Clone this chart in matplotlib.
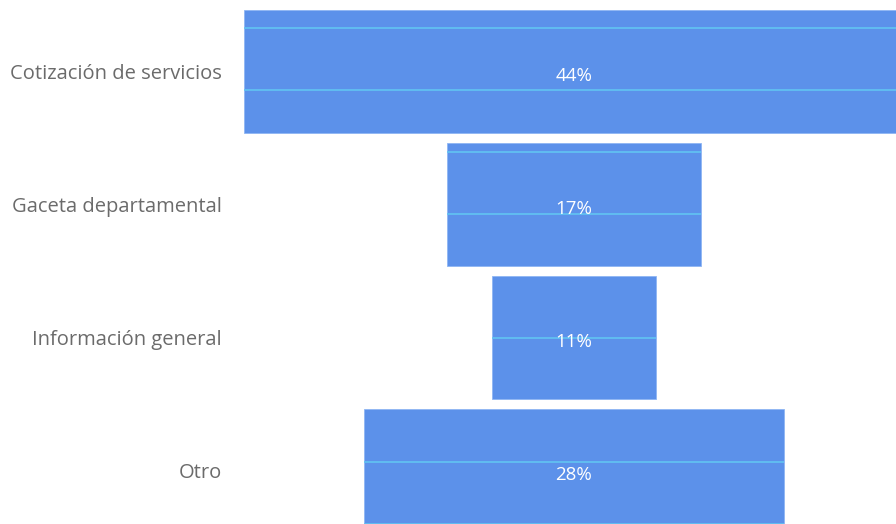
import numpy as np
import matplotlib
matplotlib.use("Agg")
import matplotlib.pyplot as plt

# data
categories = ["Cotización de servicios", "Gaceta departamental",
              "Información general", "Otro"]
values = [44, 17, 11, 28]
labels = ["44%", "17%", "11%", "28%"]

bar_color = "#5c91ea"
line_color = "#62c4f2"
text_color = "#6b6b6b"

plt.rcParams["font.family"] = ["Open Sans", "DejaVu Sans"]

fig = plt.figure(figsize=(8.96, 5.24), dpi=100)
ax = fig.add_axes([240 / 896, 0, 656 / 896, 1])

pos = np.arange(len(values))
vals = np.array(values, dtype=float)
height = 0.93
ax.barh(pos, vals, left=-vals / 2, height=height, color=bar_color,
        edgecolor="#8fb6f3", linewidth=0.6, zorder=2)

# light lines showing through the bars
grid = np.arange(-0.327, 3.5, 0.466)
for p, v in zip(pos, vals):
    for g in grid:
        if p - height / 2 + 0.03 < g < p + height / 2 - 0.03:
            ax.hlines(g, -v / 2, v / 2, color=line_color, lw=1.2, zorder=3)

for p, lab in zip(pos, labels):
    ax.text(0, p + 0.03, lab, color="white", fontsize=13.5,
            ha="center", va="center", zorder=4)

ax.set_xlim(-22.27, 21.47)
ax.set_ylim(3.402, -0.538)
ax.set_yticks(pos)
ax.set_yticklabels(categories, fontsize=14.5, color=text_color)
ax.tick_params(axis="y", length=0, pad=13)
ax.set_xticks([])
for s in ax.spines.values():
    s.set_visible(False)

fig.savefig("out.png", dpi=100)
